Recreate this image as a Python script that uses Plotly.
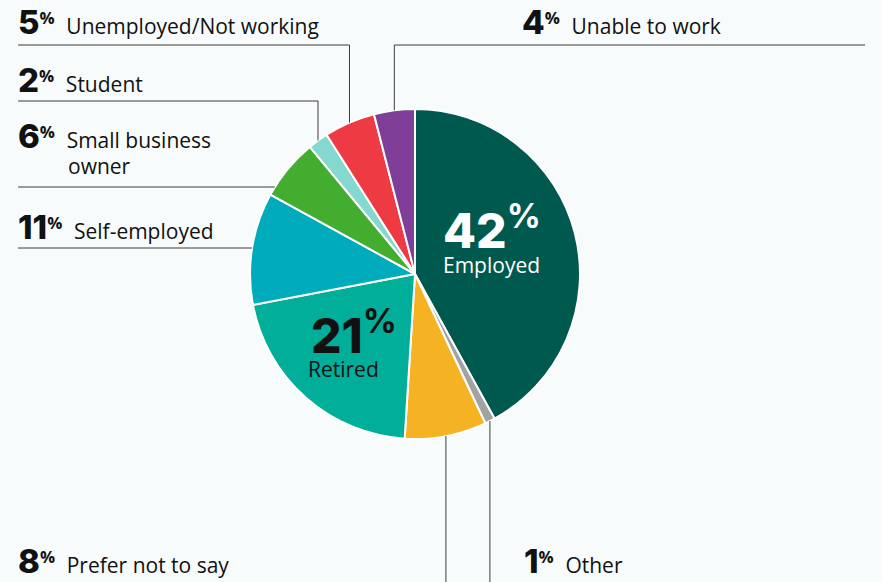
import math
import plotly.graph_objects as go

# Employment status shares, clockwise from 12 o'clock
categories = ["Employed", "Other", "Prefer not to say", "Retired", "Self-employed",
              "Small business owner", "Student", "Unemployed/Not working", "Unable to work"]
values = [42, 1, 8, 21, 11, 6, 2, 5, 4]
colors = ["#00594f", "#a2a2a2", "#f5b223", "#00ae9a", "#00abbb",
          "#42ad2e", "#84d8cf", "#ee3a43", "#7f3f98"]

W, H = 882, 582
CX, CY, R = 415, 274, 165
BG = "#f7fbfb"
NUM_FONT = "Inter"
TXT_FONT = "Open Sans"
INK = "#111111"


def px(x):
    return x / W


def py(y):
    return 1 - y / H


fig = go.Figure(go.Pie(
    labels=categories, values=values, sort=False, direction="clockwise", rotation=0,
    marker=dict(colors=colors, line=dict(color="white", width=2)),
    textinfo="none", hoverinfo="label+percent", showlegend=False,
    domain=dict(x=[px(CX - R), px(CX + R)], y=[py(CY + R), py(CY - R)]),
))

total = sum(values)
mid_angle = {}
acc = 0
for c, v in zip(categories, values):
    mid_angle[c] = 2 * math.pi * (acc + v / 2) / total  # clockwise from top
    acc += v


def edge_at_mid(cat):
    a = mid_angle[cat]
    return CX + R * math.sin(a), CY - R * math.cos(a)


def edge_x_at_y(y):
    return CX - math.sqrt(R * R - (y - CY) ** 2)


shapes = []


def seg(x0, y0, x1, y1):
    shapes.append(dict(type="line", xref="paper", yref="paper",
                       x0=px(x0), y0=py(y0), x1=px(x1), y1=py(y1),
                       line=dict(color="#3c3c3c", width=1)))


# leader lines: rules under the outside labels
ex, ey = edge_at_mid("Unemployed/Not working")
seg(18, 45, ex, 45); seg(ex, 45, ex, ey)
ex, ey = edge_at_mid("Student")
seg(18, 101, ex, 101); seg(ex, 101, ex, ey)
seg(18, 187, edge_x_at_y(187), 187)
seg(18, 248, edge_x_at_y(248), 248)
ex, ey = edge_at_mid("Unable to work")
seg(ex, 45, 865, 45); seg(ex, 45, ex, ey)
ex, ey = edge_at_mid("Prefer not to say")
seg(ex, ey, ex, H)
ex, ey = edge_at_mid("Other")
seg(ex, ey, ex, H)

ann = []


def label(x, y, pct, text, numsize=33):
    ann.append(dict(
        x=px(x), y=py(y), xref="paper", yref="paper", xanchor="left", yanchor="middle",
        showarrow=False, align="left",
        text=f"<b><span style='font-size:{numsize}px;font-family:{NUM_FONT};font-weight:800'>{pct}</span>"
             f"<sup>%</sup></b>&nbsp;<span style='font-size:21px'> {text}</span>",
        font=dict(family=TXT_FONT, size=24, color=INK)))


vals = dict(zip(categories, values))
label(16, 22, vals["Unemployed/Not working"], "Unemployed/Not working")
label(16, 80, vals["Student"], "Student")
label(16, 136, vals["Small business owner"], "Small business")
ann.append(dict(x=px(66), y=py(166), xref="paper", yref="paper", xanchor="left",
                yanchor="middle", showarrow=False, text="owner",
                font=dict(family=TXT_FONT, size=21, color=INK)))
label(16, 227, vals["Self-employed"], "Self-employed")
label(520, 22, vals["Unable to work"], "Unable to work")
label(16, 561, vals["Prefer not to say"], "Prefer not to say")
label(522, 561, vals["Other"], "Other")


def inner(x, y, pct, text, color, dx):
    ann.append(dict(
        x=px(x), y=py(y), xref="paper", yref="paper", xanchor="center", yanchor="middle",
        showarrow=False,
        text=f"<b><span style='font-weight:800'>{pct}</span><sup>%</sup></b>",
        font=dict(family=NUM_FONT, size=48, color=color)))
    ann.append(dict(
        x=px(x + dx), y=py(y + 37), xref="paper", yref="paper", xanchor="center",
        yanchor="middle", showarrow=False, text=text,
        font=dict(family=TXT_FONT, size=21, color=color)))


inner(492, 228, vals["Employed"], "Employed", "white", 0)
inner(354, 332, vals["Retired"], "Retired", INK, -11)

fig.update_layout(
    width=W, height=H, margin=dict(l=0, r=0, t=0, b=0),
    paper_bgcolor=BG, plot_bgcolor=BG,
    shapes=shapes, annotations=ann,
)

fig.write_html("out.html")
